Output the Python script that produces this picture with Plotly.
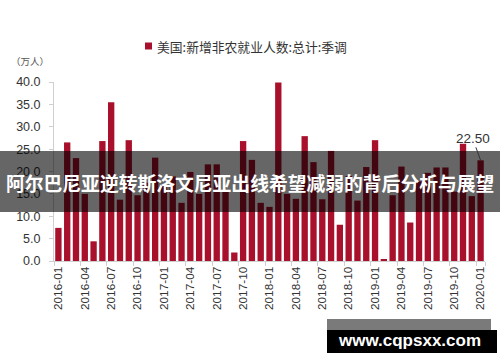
import plotly.graph_objects as go

# ---- data ----
months = [
    "2016-01", "2016-02", "2016-03", "2016-04", "2016-05", "2016-06", "2016-07", "2016-08", "2016-09", "2016-10", "2016-11", "2016-12",
    "2017-01", "2017-02", "2017-03", "2017-04", "2017-05", "2017-06", "2017-07", "2017-08", "2017-09", "2017-10", "2017-11", "2017-12",
    "2018-01", "2018-02", "2018-03", "2018-04", "2018-05", "2018-06", "2018-07", "2018-08", "2018-09", "2018-10", "2018-11", "2018-12",
    "2019-01", "2019-02", "2019-03", "2019-04", "2019-05", "2019-06", "2019-07", "2019-08", "2019-09", "2019-10", "2019-11", "2019-12",
    "2020-01",
]
nonfarm = [
    7.4, 26.5, 23.0, 15.0, 4.4, 26.8, 35.5, 13.7, 27.0, 14.7, 17.5, 23.1,
    17.0, 18.9, 13.0, 19.9, 15.0, 21.6, 21.6, 15.5, 1.9, 26.8, 22.6, 13.0,
    12.1, 39.9, 15.0, 13.9, 27.9, 22.1, 13.8, 24.6, 8.1, 19.0, 13.5, 21.0,
    27.0, 0.4, 14.7, 21.1, 8.6, 17.8, 19.7, 20.9, 20.9, 15.5, 26.2, 14.5,
    22.5,
]
tick_months = months[::3]
y_ticks = [0, 5, 10, 15, 20, 25, 30, 35, 40]

series_name = "美国:新增非农就业人数:总计:季调"
unit_label = "（万人）"
banner_title = "阿尔巴尼亚逆转斯洛文尼亚出线希望减弱的背后分析与展望"
watermark = "www.cqpsxx.com"
last_label = "22.50"

# ---- layout geometry (pixels) ----
W, H = 500, 362
L, R, T, B = 54, 15, 82, 101
PW, PH = W - L - R, H - T - B


def px(x):
    return (x - L) / PW


def py(y):
    return (H - B - y) / PH


BAR_COLOR = "#A8102B"
AXIS_COLOR = "#CFCFCF"
TEXT_COLOR = "#333333"

fig = go.Figure()
fig.add_trace(go.Bar(
    x=months, y=nonfarm, name=series_name,
    marker=dict(color=BAR_COLOR, line=dict(width=0)),
    showlegend=False,
))

shapes = [
    # legend swatch
    dict(type="rect", xref="paper", yref="paper", x0=px(145), x1=px(152), y0=py(49.5), y1=py(42.5),
         fillcolor=BAR_COLOR, line=dict(width=0), layer="above"),
    # dark banner
    dict(type="rect", xref="paper", yref="paper", x0=px(0), x1=px(500), y0=py(212), y1=py(151),
         fillcolor="rgba(0,0,0,0.6)", line=dict(width=0), layer="above"),
    # watermark boxes
    dict(type="rect", xref="paper", yref="paper", x0=px(327), x1=px(491), y0=py(330), y1=py(319),
         fillcolor="#7A7A7A", line=dict(width=0), layer="above"),
    dict(type="rect", xref="paper", yref="paper", x0=px(327), x1=px(497), y0=py(353), y1=py(330),
         fillcolor="#000000", line=dict(width=0), layer="above"),
]

annotations = [
    dict(xref="paper", yref="paper", x=px(155), y=py(46), text=series_name, showarrow=False,
         xanchor="left", yanchor="middle", font=dict(family="Noto Sans CJK SC", size=12.8, color=TEXT_COLOR)),
    dict(xref="paper", yref="paper", x=px(9), y=py(61), text=unit_label, showarrow=False,
         xanchor="left", yanchor="middle", font=dict(family="Noto Sans CJK SC", size=9.5, color="#555555")),
    dict(x=months[-1], y=nonfarm[-1], xref="x", yref="y", text=last_label, showarrow=True,
         arrowhead=0, arrowwidth=1, arrowcolor=TEXT_COLOR, ax=-8, ay=-22, standoff=0,
         font=dict(family="Liberation Sans", size=13.5, color=TEXT_COLOR)),
    dict(xref="paper", yref="paper", x=px(250), y=py(182), text="<b>" + banner_title + "</b>", showarrow=False,
         xanchor="center", yanchor="middle", font=dict(family="Noto Sans CJK SC", size=18.8, color="#FFFFFF")),
    dict(xref="paper", yref="paper", x=px(409), y=py(340.5), text="<b>" + watermark + "</b>", showarrow=False,
         xanchor="center", yanchor="middle", font=dict(family="Liberation Sans", size=17, color="#FFFFFF")),
]

fig.update_layout(
    width=W, height=H, autosize=False,
    margin=dict(l=L, r=R, t=T, b=B, pad=0),
    paper_bgcolor="white", plot_bgcolor="white",
    bargap=0.28,
    shapes=shapes, annotations=annotations,
    font=dict(family="Liberation Sans", color=TEXT_COLOR),
    xaxis=dict(
        type="category", categoryorder="array", categoryarray=months,
        tickmode="array", tickvals=tick_months, ticktext=tick_months,
        tickangle=-90, tickson="boundaries",
        ticks="outside", ticklen=4, tickcolor=AXIS_COLOR,
        showline=True, linecolor=AXIS_COLOR, linewidth=1,
        showgrid=False, zeroline=False,
        tickfont=dict(family="Liberation Sans", size=11.8, color=TEXT_COLOR),
        range=[-0.5, len(months) - 0.5],
    ),
    yaxis=dict(
        range=[0, 40], tickmode="array", tickvals=y_ticks, tickformat=".1f",
        ticks="outside", ticklen=4, tickcolor=AXIS_COLOR,
        showline=True, linecolor=AXIS_COLOR, linewidth=1,
        showgrid=False, zeroline=False,
        ticklabelstandoff=6,
        tickfont=dict(family="Liberation Sans", size=12.5, color=TEXT_COLOR),
    ),
)

fig.write_html(
    "out.html",
    config={"displayModeBar": False},
    post_script="document.body.style.margin='0';document.body.style.overflow='hidden';",
)
